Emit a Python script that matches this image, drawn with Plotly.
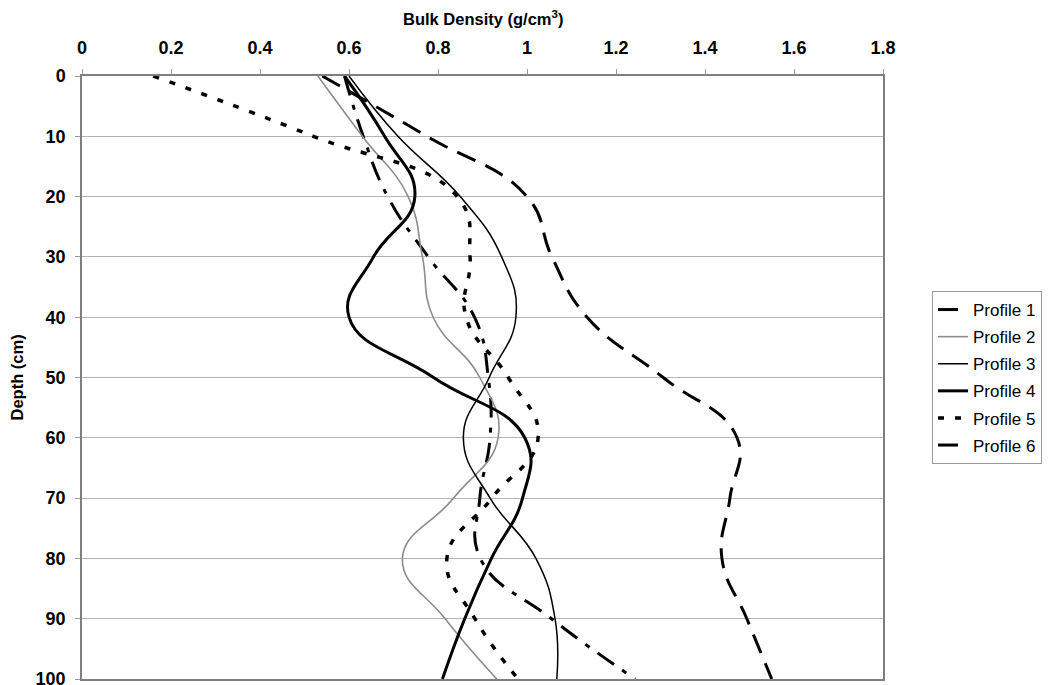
import plotly.graph_objects as go

depth = [0, 10, 20, 30, 40, 50, 60, 70, 80, 90, 100]

profile1 = [0.59, 0.632, 0.687, 0.778, 0.882, 0.913, 0.917, 0.894, 0.895, 1.055, 1.243]
profile2 = [0.53, 0.63, 0.733, 0.765, 0.789, 0.894, 0.935, 0.835, 0.72, 0.816, 0.932]
profile3 = [0.60, 0.71, 0.85, 0.943, 0.975, 0.915, 0.857, 0.917, 1.02, 1.063, 1.067]
profile4 = [0.59, 0.68, 0.748, 0.655, 0.60, 0.79, 0.995, 0.99, 0.92, 0.86, 0.81]
profile5 = [0.16, 0.52, 0.843, 0.872, 0.863, 0.958, 1.025, 0.921, 0.82, 0.883, 0.98]
profile6 = [0.54, 0.775, 1.0, 1.056, 1.135, 1.306, 1.472, 1.456, 1.438, 1.494, 1.55]

names = ["Profile 1", "Profile 2", "Profile 3", "Profile 4", "Profile 5", "Profile 6"]
series = [profile1, profile2, profile3, profile4, profile5, profile6]
styles = [
    dict(color="black", width=3, dash="20px,10px,5px,10px"),
    dict(color="#8c8c8c", width=1.6, dash="solid"),
    dict(color="black", width=1.5, dash="solid"),
    dict(color="black", width=3, dash="solid"),
    dict(color="black", width=3.5, dash="6px,11px"),
    dict(color="black", width=3, dash="20px,11px"),
]

FONT = "Liberation Sans, Arial, Helvetica, sans-serif"

fig = go.Figure()
for i, (n, vals, st) in enumerate(zip(names, series, styles)):
    fig.add_trace(go.Scatter(
        x=vals, y=depth, mode="lines", name=n, legendgroup=f"g{i}",
        line=dict(shape="spline", smoothing=1.3, **st),
        hoverinfo="skip",
    ))

# the page body adds an 8px offset; plot area kept at the reference position
fig.update_layout(
    width=1043, height=690,
    margin=dict(l=74, r=168, t=68, b=19, autoexpand=False),
    paper_bgcolor="white", plot_bgcolor="white",
    font=dict(family=FONT, color="black"),
    showlegend=True,
    legend=dict(
        x=1.0612, xanchor="left", y=0.5, yanchor="middle",
        font=dict(family=FONT, size=17, color="black"),
        bordercolor="#9a9a9a", borderwidth=1, bgcolor="white",
        tracegroupgap=2, itemwidth=30,
    ),
    annotations=[
        dict(text="<b>Bulk Density (g/cm<sup>3</sup>)</b>", x=0.5, xref="paper",
             y=1, yref="paper", yanchor="middle", yshift=58, showarrow=False,
             font=dict(family=FONT, size=16.5, color="black")),
        dict(text="<b>Depth (cm)</b>", x=0, xref="paper", xanchor="center",
             xshift=-66, y=0.5, yref="paper", yanchor="middle", textangle=-90,
             showarrow=False, font=dict(family=FONT, size=16.5, color="black")),
    ],
)

fig.update_xaxes(
    side="top", range=[0, 1.8], dtick=0.2, tick0=0, automargin=False,
    showgrid=False, zeroline=False,
    showline=True, linecolor="#7f7f7f", linewidth=1.5, mirror=True,
    ticks="outside", ticklen=5, tickcolor="#9a9a9a",
    tickfont=dict(family=FONT, size=18, weight="bold"),
    tickformat="~g", ticklabelstandoff=8,
)
fig.update_yaxes(
    autorange=False, range=[100, 0], dtick=10, tick0=0, automargin=False,
    showgrid=True, gridcolor="#b4b4b4", gridwidth=1, zeroline=False,
    showline=True, linecolor="#7f7f7f", linewidth=1.5, mirror=True,
    ticks="outside", ticklen=5, tickcolor="#9a9a9a",
    tickfont=dict(family=FONT, size=18, weight="bold"),
    ticklabelstandoff=6,
)

fig.write_html("out.html")
